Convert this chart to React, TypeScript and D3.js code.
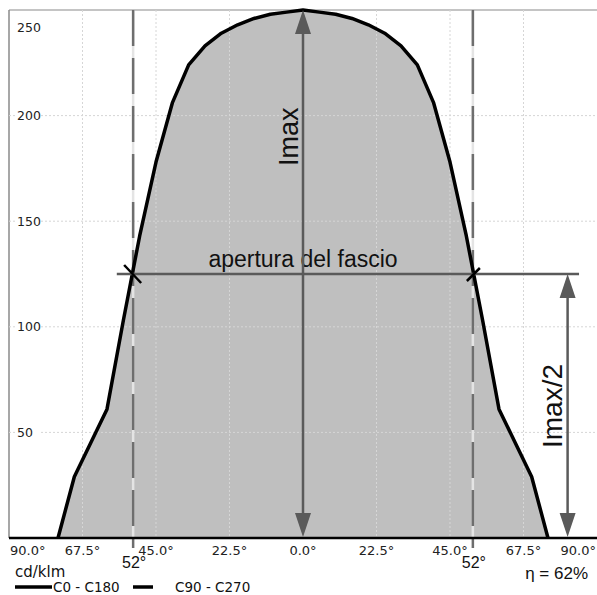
import * as d3 from 'd3';

// photometric curve, C0 - C180 (cd/klm), half-plane angles
const ANGLES = [0, 5, 10, 15, 20, 25, 30, 35, 40, 45, 50, 55, 60, 65, 70, 75, 80, 85, 90];
const C0_C180 = [250, 249, 248, 246, 243, 239, 233, 224, 206, 178, 143, 103, 61, 45, 29, 0, 0, 0, 0];

const Y_TICKS = [50, 100, 150, 200, 250];
const X_GRID = [-67.5, -45, -22.5, 22.5, 45, 67.5];
const X_TICKS = [-90, -67.5, -45, -22.5, 0, 22.5, 45, 67.5, 90];

const IMAX = 250;
const BEAM_ANGLE = 52;
const HALF_LINE_FROM = -57;
const HALF_LINE_TO = 84.5;
const HALF_ARROW_AT = 81;
const EFFICIENCY = '62%';

const W = 597;
const H = 595;
const LEFT = 9;
const RIGHT = 597;
const TOP = 10;
const BOTTOM = 538;

const SANS = '"Liberation Sans", Arial, sans-serif';
const TAHOMA = '"DejaVu Sans", Verdana, sans-serif';
const ARROW = '#5a5a5a';

function arrowHead(x: number, tipY: number, dir: 1 | -1, len = 24, half = 8) {
  const b = tipY + dir * len;
  return `${x},${tipY} ${x - half},${b} ${x + half},${b}`;
}

export default function App() {
  const x = d3.scaleLinear().domain([-90, 90]).range([LEFT, RIGHT]);
  const y = d3.scaleLinear().domain([0, 250]).range([BOTTOM, TOP]);

  // keep points up to the first zero on each side
  const lastIdx = C0_C180.indexOf(0);
  const half = ANGLES.slice(0, lastIdx + 1).map((a, i) => ({ a, v: C0_C180[i] }));
  const pts = [
    ...half.slice(1).reverse().map((d) => ({ a: -d.a, v: d.v })),
    ...half,
  ];

  const line = d3.line<{ a: number; v: number }>().x((d) => x(d.a)).y((d) => y(d.v));
  const area = d3
    .area<{ a: number; v: number }>()
    .x((d) => x(d.a))
    .y0(y(0))
    .y1((d) => y(d.v));

  const yHalf = y(IMAX / 2);
  const cx = x(0);

  const fmt = (v: number) => `${Math.abs(v).toFixed(1)}°`;

  return (
    <svg
      width={W}
      height={H}
      style={{ position: 'absolute', left: 0, top: 0, background: '#fff' }}
    >
      {/* frame */}
      <line x1={LEFT} x2={RIGHT} y1={TOP} y2={TOP} stroke="#8a8a8a" strokeWidth={1.2} />
      <line x1={LEFT} x2={LEFT} y1={TOP} y2={BOTTOM} stroke="#8a8a8a" strokeWidth={1.5} />

      {/* fill */}
      <path d={area(pts) ?? ''} fill="#bfbfbf" />

      {/* grid */}
      {Y_TICKS.filter((t) => t < 250).map((t) => (
        <line
          key={'gy' + t}
          x1={LEFT}
          x2={RIGHT}
          y1={y(t)}
          y2={y(t)}
          stroke="#d6d6d6"
          strokeWidth={1}
          strokeDasharray="2 2"
        />
      ))}
      {X_GRID.map((t) => (
        <line
          key={'gx' + t}
          x1={x(t)}
          x2={x(t)}
          y1={TOP}
          y2={BOTTOM}
          stroke="#d6d6d6"
          strokeWidth={1}
          strokeDasharray="2 2"
        />
      ))}

      {/* y labels */}
      {Y_TICKS.map((t) => {
        const ty = t === 250 ? y(t) + 17 : y(t);
        return (
          <g key={'yl' + t}>
            <rect x={15} y={ty - 7} width={26} height={14} fill="#fff" />
            <text
              x={17}
              y={ty}
              dominantBaseline="central"
              fontFamily={TAHOMA}
              fontSize={12.5}
              fill="#222"
            >
              {t}
            </text>
          </g>
        );
      })}

      {/* beam angle verticals, C90 - C270 style */}
      {[-BEAM_ANGLE, BEAM_ANGLE].map((a) => (
        <g key={'ba' + a}>
          <line x1={x(a)} x2={x(a)} y1={TOP} y2={BOTTOM} stroke="#e4e4e4" strokeWidth={2.5} />
          <line
            x1={x(a)}
            x2={x(a)}
            y1={TOP}
            y2={548}
            stroke="#6e6e6e"
            strokeWidth={2.5}
            strokeDasharray="36 12"
          />
        </g>
      ))}

      {/* bottom axis */}
      <line x1={LEFT} x2={RIGHT} y1={BOTTOM} y2={BOTTOM} stroke="#000" strokeWidth={2.5} />

      {/* curve */}
      <path d={line(pts) ?? ''} fill="none" stroke="#000" strokeWidth={3.5} strokeLinejoin="round" />

      {/* half max line */}
      <line
        x1={x(HALF_LINE_FROM)}
        x2={x(HALF_LINE_TO)}
        y1={yHalf}
        y2={yHalf}
        stroke={ARROW}
        strokeWidth={2.5}
      />
      {/* crossing ticks */}
      <line x1={x(-BEAM_ANGLE) - 9} y1={yHalf - 9} x2={x(-BEAM_ANGLE) + 8} y2={yHalf + 9} stroke="#000" strokeWidth={2.5} />
      <line x1={x(BEAM_ANGLE) - 6} y1={yHalf + 7} x2={x(BEAM_ANGLE) + 7} y2={yHalf - 6} stroke="#000" strokeWidth={2.5} />

      <text
        x={cx}
        y={yHalf - 7}
        textAnchor="middle"
        fontFamily={SANS}
        fontSize={23}
        fill="#111"
      >
        apertura del fascio
      </text>

      {/* Imax arrow */}
      <line x1={cx} x2={cx} y1={y(IMAX) + 20} y2={BOTTOM - 20} stroke={ARROW} strokeWidth={2.5} />
      <polygon points={arrowHead(cx, y(IMAX), 1)} fill={ARROW} />
      <polygon points={arrowHead(cx, BOTTOM - 1, -1)} fill={ARROW} />
      <text
        transform={`translate(${cx - 5},${y(190)}) rotate(-90)`}
        textAnchor="middle"
        fontFamily={SANS}
        fontSize={27}
        fill="#111"
      >
        Imax
      </text>

      {/* Imax/2 arrow */}
      <line
        x1={x(HALF_ARROW_AT)}
        x2={x(HALF_ARROW_AT)}
        y1={yHalf + 20}
        y2={BOTTOM - 20}
        stroke={ARROW}
        strokeWidth={2.5}
      />
      <polygon points={arrowHead(x(HALF_ARROW_AT), yHalf, 1)} fill={ARROW} />
      <polygon points={arrowHead(x(HALF_ARROW_AT), BOTTOM - 1, -1)} fill={ARROW} />
      <text
        transform={`translate(${x(HALF_ARROW_AT) - 6},${y(IMAX / 4)}) rotate(-90)`}
        textAnchor="middle"
        fontFamily={SANS}
        fontSize={28}
        fill="#111"
      >
        Imax/2
      </text>

      {/* x tick labels */}
      {X_TICKS.map((t) => (
        <text
          key={'xl' + t}
          x={t === -90 ? LEFT + 1 : t === 90 ? RIGHT - 1 : x(t)}
          y={555}
          textAnchor={t === -90 ? 'start' : t === 90 ? 'end' : 'middle'}
          fontFamily={TAHOMA}
          fontSize={13}
          fill="#222"
        >
          {fmt(t)}
        </text>
      ))}
      {[-BEAM_ANGLE, BEAM_ANGLE].map((a) => (
        <text
          key={'bl' + a}
          x={x(a) + 1}
          y={568}
          textAnchor="middle"
          fontFamily={SANS}
          fontSize={16}
          fill="#111"
        >
          {`${Math.abs(a)}°`}
        </text>
      ))}

      <text x={588} y={579} textAnchor="end" fontFamily={SANS} fontSize={17} fill="#111">
        {`η = ${EFFICIENCY}`}
      </text>

      {/* units + legend */}
      <text x={15} y={577} fontFamily={TAHOMA} fontSize={15} fill="#111">
        cd/klm
      </text>
      <line x1={15} x2={52} y1={587} y2={587} stroke="#000" strokeWidth={3.5} />
      <text x={53} y={592} fontFamily={TAHOMA} fontSize={13.5} fill="#111">
        C0 - C180
      </text>
      <line x1={133} x2={153} y1={587} y2={587} stroke="#000" strokeWidth={3.5} />
      <text x={175} y={592} fontFamily={TAHOMA} fontSize={13.5} fill="#111">
        C90 - C270
      </text>
    </svg>
  );
}
